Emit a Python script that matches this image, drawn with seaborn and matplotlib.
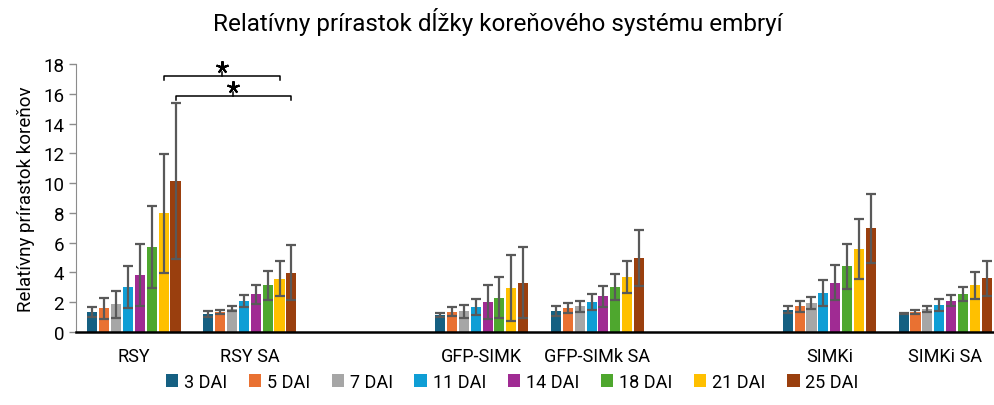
import seaborn as sns
import pandas as pd
import matplotlib.pyplot as plt

lines = ['RSY', 'RSY SA', 'GFP-SIMK', 'GFP-SIMk SA', 'SIMKi', 'SIMKi SA']
# prazdne sloty medzi skupinami
order = ['RSY', 'RSY SA', ' ', 'GFP-SIMK', 'GFP-SIMk SA', '  ', 'SIMKi', 'SIMKi SA']
days = ['3 DAI', '5 DAI', '7 DAI', '11 DAI', '14 DAI', '18 DAI', '21 DAI', '25 DAI']

colors = ['#156082', '#E97132', '#A6A6A6', '#0F9ED5',
          '#A02B93', '#4EA72E', '#FFC000', '#9A3F0E']

rsy = [1.36, 1.59, 1.86, 3.02, 3.80, 5.70, 7.96, 10.13]
rsy_sa = [1.19, 1.34, 1.57, 2.08, 2.53, 3.15, 3.58, 3.98]
gfp = [1.14, 1.36, 1.39, 1.68, 2.01, 2.30, 2.95, 3.31]
gfp_sa = [1.41, 1.61, 1.72, 2.01, 2.39, 3.02, 3.69, 4.99]
simki = [1.50, 1.72, 1.97, 2.62, 3.31, 4.41, 5.57, 6.96]
simki_sa = [1.25, 1.34, 1.54, 1.81, 2.10, 2.57, 3.13, 3.60]

rsy_err = [0.34, 0.70, 0.90, 1.43, 2.08, 2.75, 4.00, 5.26]
rsy_sa_err = [0.20, 0.15, 0.18, 0.40, 0.65, 0.98, 1.18, 1.83]
gfp_err = [0.15, 0.30, 0.45, 0.55, 1.13, 1.38, 2.20, 2.40]
gfp_sa_err = [0.36, 0.36, 0.38, 0.56, 0.70, 0.85, 1.10, 1.88]
simki_err = [0.22, 0.36, 0.40, 0.90, 1.16, 1.52, 2.00, 2.30]
simki_sa_err = [0.05, 0.11, 0.20, 0.42, 0.36, 0.47, 0.92, 1.19]

values = [rsy, rsy_sa, gfp, gfp_sa, simki, simki_sa]
errors = [rsy_err, rsy_sa_err, gfp_err, gfp_sa_err, simki_err, simki_sa_err]

rows = []
for ln, vals, errs in zip(lines, values, errors):
    for d, v, e in zip(days, vals, errs):
        rows.append({'line': ln, 'day': d, 'val': v, 'err': e})
df = pd.DataFrame(rows)

plt.rcParams['font.family'] = ['Roboto', 'DejaVu Sans']

fig = plt.figure(figsize=(9.95, 4.06), dpi=100)
ax = fig.add_axes([76 / 995, 1 - 333 / 406, 1 - 76 / 995, (333 - 65) / 406])

sns.barplot(data=df, x='line', y='val', hue='day', order=order, hue_order=days,
            palette=colors, width=0.82, gap=0.15, saturation=1, errorbar=None,
            legend=True, ax=ax)

# chybove useky podla polohy stlpcov
bar_pos = {}
for di, cont in enumerate(ax.containers):
    for bar in cont:
        xc = bar.get_x() + bar.get_width() / 2
        slot = order[int(round(xc))]
        bar_pos[(slot, days[di])] = xc
df['x'] = [bar_pos[(l, d)] for l, d in zip(df['line'], df['day'])]
ax.errorbar(df['x'], df['val'], yerr=df['err'], fmt='none', ecolor='#595959',
            elinewidth=1.6, capsize=3.5, capthick=1.6, zorder=3)

# hviezdicky - vyznamnost
def bracket(x1, x2, h, dh=0.25):
    ax.plot([x1, x1, x2, x2], [h - dh, h, h, h - dh], color='black', lw=1.1, clip_on=False)
    ax.plot([(x1 + x2) / 2] * 2, [h, h + dh], color='black', lw=1.1, clip_on=False)
    ax.plot([(x1 + x2) / 2], [h + 0.6], marker=(5, 2, 0), ms=9, mew=1.5,
            color='black', clip_on=False)

bracket(bar_pos[('RSY', '21 DAI')], bar_pos[('RSY SA', '21 DAI')], 17.2)
bracket(bar_pos[('RSY', '25 DAI')], bar_pos[('RSY SA', '25 DAI')], 15.85)

ax.set_ylim(0, 18)
ax.set_yticks(range(0, 19, 2))
ax.set_xlim(-0.5, 7.43)
ax.set_xlabel('')
ax.set_ylabel('Relatívny prírastok koreňov', fontsize=13.5, labelpad=6)
ax.tick_params(axis='y', labelsize=13.5, length=5, color='#8C8C8C', width=1)
ax.tick_params(axis='x', labelsize=13, length=0, pad=11)
for s in ['top', 'right']:
    ax.spines[s].set_visible(False)
ax.spines['left'].set_color('#8C8C8C')
ax.spines['bottom'].set_color('black')
ax.spines['bottom'].set_linewidth(1.8)

handles, labels = ax.get_legend_handles_labels()
ax.get_legend().remove()
fig.legend(handles, labels, loc='center', bbox_to_anchor=(512 / 995, 1 - 383 / 406), ncol=8,
           frameon=False, fontsize=13, handlelength=0.7, handleheight=0.7,
           handletextpad=0.3, columnspacing=1.2)

fig.suptitle('Relatívny prírastok dĺžky koreňového systému embryí', x=0.5, y=1 - 22 / 406,
             va='center', fontsize=17.5)

plt.savefig('out.png', dpi=100)
